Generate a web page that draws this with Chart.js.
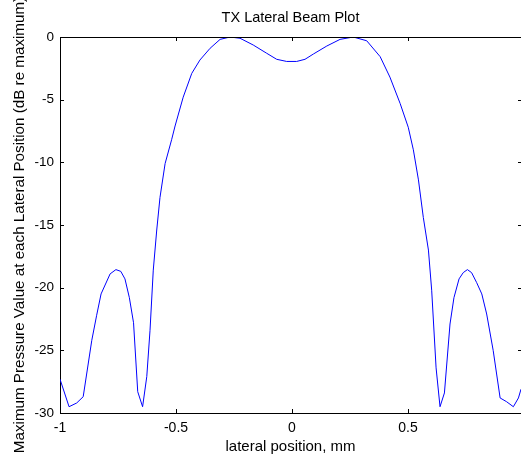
<!DOCTYPE html>
<html>
<head>
<meta charset="utf-8">
<script src="https://cdn.jsdelivr.net/npm/chart.js@4"></script>
<style>
  html, body { margin: 0; padding: 0; background: #fff; overflow: hidden; }
  #wrap { width: 521px; height: 459px; }
</style>
</head>
<body>
<div id="wrap"><canvas id="beamChart"></canvas></div>
<script>
// lateral position (mm) and level (dB re maximum)
const lateral = [-1, -0.961, -0.928, -0.9, -0.863, -0.842, -0.823, -0.784, -0.759, -0.738,
  -0.72, -0.701, -0.683, -0.665, -0.644, -0.626, -0.612, -0.598, -0.583, -0.569,
  -0.547, -0.519, -0.504, -0.469, -0.432, -0.397, -0.353, -0.31, -0.267, -0.224,
  -0.167, -0.109, -0.066, -0.023, 0.02, 0.056, 0.092, 0.15, 0.207, 0.264,
  0.322, 0.38, 0.422, 0.466, 0.501, 0.523, 0.545, 0.566, 0.588, 0.602,
  0.621, 0.638, 0.657, 0.681, 0.698, 0.72, 0.738, 0.756, 0.774, 0.796,
  0.818, 0.839, 0.867, 0.897, 0.925, 0.954, 0.976, 0.987];
const levelDb = [-27.3, -29.5, -29.2, -28.7, -24.2, -22.2, -20.5, -18.9, -18.56, -18.7,
  -19.3, -20.8, -22.8, -28.3, -29.5, -27.1, -23.4, -18.6, -15.4, -12.8,
  -10.1, -8.2, -7.1, -4.8, -2.9, -1.84, -0.9, -0.19, 0, -0.1,
  -0.64, -1.3, -1.78, -1.95, -1.95, -1.78, -1.36, -0.72, -0.19, 0,
  -0.3, -1.57, -3.2, -5.3, -7.2, -9.0, -11.4, -14.4, -17, -20.2,
  -26.4, -29.5, -28.4, -22.9, -20.8, -19.3, -18.8, -18.56, -18.8, -19.6,
  -20.5, -22.1, -25.0, -28.8, -29.1, -29.5, -28.8, -28.1];
const xTicks = [-1, -0.5, 0, 0.5];
const yTicks = [-30, -25, -20, -15, -10, -5, 0];

const points = lateral.map((x, i) => ({ x: x, y: levelDb[i] }));
const family = 'Arial, "Liberation Sans", sans-serif';

// box round the axes, inward ticks on all sides, and the title
const matlabBox = {
  id: 'matlabBox',
  afterDraw(chart) {
    const { ctx, chartArea: a, scales } = chart;
    ctx.save();
    ctx.strokeStyle = '#000';
    ctx.lineWidth = 1;
    ctx.beginPath();
    ctx.moveTo(a.left, a.top + 0.5);
    ctx.lineTo(a.right, a.top + 0.5);
    xTicks.forEach(v => {
      const px = Math.round(scales.x.getPixelForValue(v)) + 0.5;
      ctx.moveTo(px, a.bottom); ctx.lineTo(px, a.bottom - 4);
      ctx.moveTo(px, a.top); ctx.lineTo(px, a.top + 4);
    });
    yTicks.forEach(v => {
      const py = Math.round(scales.y.getPixelForValue(v)) + 0.5;
      ctx.moveTo(a.left, py); ctx.lineTo(a.left + 4, py);
      ctx.moveTo(a.right - 3, py); ctx.lineTo(a.right, py);
    });
    ctx.stroke();
    ctx.fillStyle = '#000';
    ctx.font = '14.5px ' + family;
    ctx.textAlign = 'center';
    ctx.textBaseline = 'middle';
    ctx.fillText('TX Lateral Beam Plot', (a.left + a.right) / 2, 18);
    ctx.restore();
  }
};

new Chart(document.getElementById('beamChart'), {
  type: 'line',
  data: {
    datasets: [{
      data: points,
      borderColor: '#0000ff',
      borderWidth: 1,
      pointRadius: 0,
      tension: 0,
      fill: false
    }]
  },
  options: {
    responsive: true,
    maintainAspectRatio: false,
    animation: false,
    layout: { padding: { top: 37, right: 0, left: 0, bottom: 0 } },
    plugins: { legend: { display: false }, title: { display: false }, tooltip: { enabled: false } },
    scales: {
      x: {
        type: 'linear',
        min: -1,
        max: 0.987,
        afterBuildTicks: s => { s.ticks = xTicks.map(v => ({ value: v })); },
        afterFit: s => { s.height = 46; },
        grid: { display: false, drawTicks: false },
        border: { display: true, color: '#000', width: 1 },
        ticks: { color: '#000', font: { family: family, size: 14 }, padding: 7, maxRotation: 0, callback: v => String(v) },
        title: { display: true, text: 'lateral position, mm', color: '#000', font: { family: family, size: 15 }, padding: { top: 0, bottom: 3 } }
      },
      y: {
        type: 'linear',
        min: -30,
        max: 0,
        afterBuildTicks: s => { s.ticks = yTicks.map(v => ({ value: v })); },
        afterFit: s => { s.width = 60; },
        grid: { display: false, drawTicks: false },
        border: { display: true, color: '#000', width: 1 },
        ticks: { color: '#000', font: { family: family, size: 13.5 }, padding: 6, callback: v => String(v) },
        title: { display: true, text: 'Maximum Pressure Value at each Lateral Position (dB re maximum)', color: '#000', font: { family: family, size: 15.2 }, padding: { top: 11, bottom: 0 } }
      }
    }
  },
  plugins: [matlabBox]
});
</script>
</body>
</html>
